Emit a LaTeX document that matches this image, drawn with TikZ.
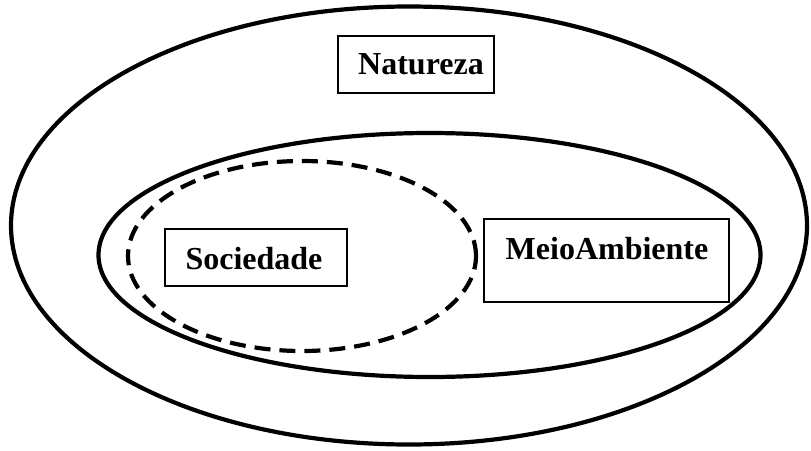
\documentclass[tikz,border=0pt]{standalone}
\usepackage{fontspec}
\setmainfont{Liberation Serif}
\usetikzlibrary{shapes.geometric}
\begin{document}
\begin{tikzpicture}[x=1pt,y=-1pt,
  ring/.style={draw, line width=4.2pt, ellipse, inner sep=0pt},
  dashring/.style={ring, dash pattern=on 16pt off 9pt},
  boxnode/.style={draw, line width=1.8pt, rectangle, inner sep=0pt},
  lbl/.style={font=\fontsize{32}{36}\selectfont\bfseries, inner sep=0pt}]
\useasboundingbox (0,0) rectangle (811,450);
\node[ring, minimum width=796pt, minimum height=438pt] (outer) at (409,225.5) {};
\node[ring, minimum width=662pt, minimum height=244pt] (inner) at (429.5,255) {};
\node[dashring, minimum width=348pt, minimum height=190pt] (soc) at (302,256) {};
\node[boxnode, minimum width=156pt, minimum height=57pt] (natbox) at (416,64.5) {};
\node[lbl] (nat) at (421,64.5) {Natureza};
\node[boxnode, minimum width=182pt, minimum height=57pt] (socbox) at (256,257.5) {};
\node[lbl] (socl) at (254,258.5) {Sociedade};
\node[boxnode, minimum width=245pt, minimum height=83pt] (meiobox) at (606.5,260.5) {};
\node[lbl] (meio) at (607,249) {MeioAmbiente};
\end{tikzpicture}
\end{document}
